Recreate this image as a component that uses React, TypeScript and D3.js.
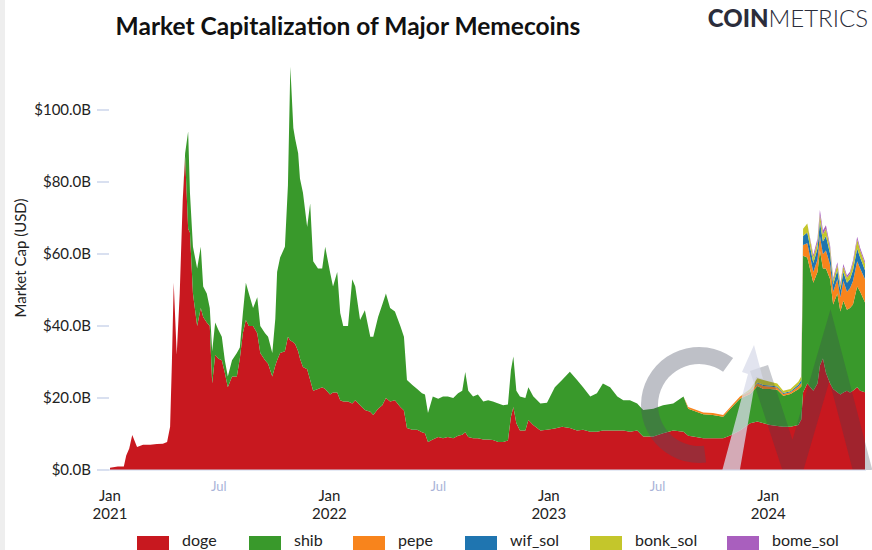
import React from "react";
import * as d3 from "d3";

// ---- data (values in $B) ----
const dates = [
  "2021-01-01","2021-01-14","2021-01-24","2021-01-28","2021-02-02","2021-02-07","2021-02-15","2021-02-25","2021-03-09","2021-03-20",
  "2021-03-30","2021-04-06","2021-04-11","2021-04-14","2021-04-17","2021-04-22","2021-04-27","2021-05-02","2021-05-06","2021-05-11",
  "2021-05-14","2021-05-19","2021-05-26","2021-06-01","2021-06-05","2021-06-11","2021-06-16","2021-06-20","2021-06-25","2021-06-30",
  "2021-07-06","2021-07-11","2021-07-16","2021-07-23","2021-07-31","2021-08-05","2021-08-10","2021-08-15","2021-08-20","2021-08-27",
  "2021-09-03","2021-09-08","2021-09-16","2021-09-21","2021-09-28","2021-10-03","2021-10-06","2021-10-11","2021-10-19","2021-10-24",
  "2021-10-28","2021-11-02","2021-11-05","2021-11-10","2021-11-13","2021-11-18","2021-11-25","2021-11-30","2021-12-05","2021-12-13",
  "2021-12-20","2021-12-25","2022-01-02","2022-01-07","2022-01-14","2022-01-19","2022-01-24","2022-02-01","2022-02-08","2022-02-13",
  "2022-02-21","2022-03-01","2022-03-10","2022-03-15","2022-03-23","2022-03-30","2022-04-05","2022-04-12","2022-04-20","2022-04-29",
  "2022-05-05","2022-05-10","2022-05-19","2022-05-27","2022-06-04","2022-06-09","2022-06-14","2022-06-22","2022-07-01","2022-07-09",
  "2022-07-17","2022-07-26","2022-08-03","2022-08-10","2022-08-15","2022-08-20","2022-08-28","2022-09-05","2022-09-14","2022-09-22",
  "2022-09-30","2022-10-09","2022-10-17","2022-10-25","2022-10-30","2022-11-03","2022-11-08","2022-11-14","2022-11-23","2022-11-28",
  "2022-12-06","2022-12-18","2022-12-29","2023-01-11","2023-01-23","2023-02-05","2023-02-17","2023-02-27","2023-03-11","2023-03-22",
  "2023-04-01","2023-04-13","2023-04-25","2023-05-05","2023-05-16","2023-05-28","2023-06-07","2023-06-24","2023-07-10","2023-07-27",
  "2023-08-13","2023-08-21","2023-08-29","2023-09-15","2023-10-01","2023-10-18","2023-10-30","2023-11-15","2023-12-02","2023-12-14",
  "2023-12-24","2024-01-04","2024-01-16","2024-01-26","2024-02-07","2024-02-20","2024-02-25","2024-02-28","2024-03-06","2024-03-16",
  "2024-03-23","2024-03-27","2024-04-01","2024-04-06","2024-04-13","2024-04-18","2024-04-25","2024-04-30","2024-05-05","2024-05-11",
  "2024-05-16","2024-05-21","2024-05-28","2024-06-02","2024-06-10"
];

const doge = [
  0.6,1.0,1.0,4,6,9.7,6.4,7,7,7.2,
  7.3,7.8,12,30,52,32,49,75,87,67,
  66,49,40,45,42.5,41,40,24,32,31,
  30.5,27,23,26,26,31,38,41.7,40,40,
  38,32.5,30.5,29.5,26,29,30.5,32.5,33,37,
  36,35.5,35,33,31,28.6,28,25,22,22.5,
  23,22.5,21,21.5,21.5,19.4,19,19,18.5,19.4,
  18,16.7,16.2,15.3,17,18,20,19,19.4,17.5,
  16.5,11.7,11.2,11.2,10.5,10.2,7.8,8.5,9.2,8.8,
  9.2,8.8,9.5,9.8,10.5,9.2,8.8,8.8,8.5,8.5,
  8.3,7.8,7.8,8.2,14.8,17.5,13,11,11,13.9,
  12.5,11,11.2,11.5,12,11.7,11,11.2,10.6,10.6,
  11,11,11,11,10.6,11,9.3,9.3,10.2,11,
  10.6,9.5,9.3,8.8,8.8,8.8,9.6,11,13,13.5,
  13,12.5,12.2,12,12,12.5,14,21.6,24,22,
  24,29,31,27,24,22.5,21.6,21,21.5,22,
  21.5,22,23,22,21.6
];

const shib = [
  0,0,0,0,0,0,0,0,0,0,
  0,0,0,0,0,0,0,0,1,27,
  11,13,16,17,8.5,8,5,9,9,8,
  6.5,3.5,3,4.5,6.5,3,5.5,10.3,9,5,
  10,7.5,7.5,7.5,6.5,13,24.5,26.5,29,42,
  76,59.5,57,55,50,48.4,39.5,49,36,33.5,
  33,39.5,34,29.5,33.5,24.2,21,21,34.5,31.6,
  23.7,27.7,20.8,21.7,25.5,28,29,26,24.6,22.5,
  20.5,13.3,12.4,11.3,10.8,10.8,8,11.9,10.6,11.6,
  11.2,11.2,11.8,12.2,16.7,12.8,11.6,12.2,10.5,10.9,
  10.7,10.7,10.2,10,13,14,9,9.4,9,9.1,
  8,7.5,7.5,11.5,13,15.6,14,11.8,9.8,10.7,
  13,12,9.4,8.4,8.8,7.5,7.4,7.7,7.8,7.5,
  9.8,7.5,7.2,6.7,6.5,6.0,7.4,8.8,8.1,9.8,
  9.5,10,10.1,8.6,9.1,9.9,9.2,37.9,35,30,
  31,32,25,29,29,23.5,27.4,23,25.5,22.5,
  23.5,24,28,27.5,24.9
];

const newcomerDates = [
  "2023-08-21","2023-08-29","2023-09-15","2023-10-01","2023-10-18","2023-10-30","2023-11-15","2023-12-02","2023-12-14","2023-12-24",
  "2024-01-04","2024-01-16","2024-01-26","2024-02-07","2024-02-20","2024-02-25","2024-02-28","2024-03-06","2024-03-16","2024-03-23",
  "2024-03-27","2024-04-01","2024-04-06","2024-04-13","2024-04-18","2024-04-25","2024-04-30","2024-05-05","2024-05-11","2024-05-16",
  "2024-05-21","2024-05-28","2024-06-02","2024-06-10"
];
const pepe = [
  0.5,0.5,0.5,0.5,0.5,0.5,0.6,0.7,0.8,0.8,
  0.7,0.6,0.5,0.5,0.8,1,3,4,3,3.5,
  4,4,5,4,3.5,4,4,5.5,5,5.5,
  6.5,7,6.5,6.5
];
const wifSol = [
  0,0,0,0,0,0,0,0.1,0.2,0.3,
  0.3,0.3,0.3,0.3,0.5,0.8,2.5,3,2.5,3,
  4,3.5,4,3,2,2.5,2,2.5,2.5,2.5,
  3,3.5,3,2.5
];
const bonkSol = [
  0,0,0,0,0,0,0,0.6,1.2,1.4,
  1.0,0.8,0.6,0.6,0.8,1,2,2.5,1.5,1.8,
  2,2,2,1.5,1.2,1.5,1.3,1.5,1.4,1.5,
  2,2.5,2,1.8
];
const bomeSol = [
  0,0,0,0,0,0,0,0,0,0,
  0,0,0,0,0,0,0,0,0.8,1,
  1.2,1,1,0.8,0.6,0.7,0.6,0.7,0.6,0.6,
  0.7,0.8,0.7,0.6
];

const seriesKeys = ["doge", "shib", "pepe", "wif_sol", "bonk_sol", "bome_sol"];
const seriesColors = ["#c8181f", "#39992b", "#f8841c", "#1f75b0", "#c4c62b", "#a95fbe"];
const yTickValues = [0, 20, 40, 60, 80, 100];
const yearTickDates = ["2021-01-01", "2022-01-01", "2023-01-01", "2024-01-01"];
const midTickDates = ["2021-07-01", "2022-07-01", "2023-07-01"];
const domainDates = ["2021-01-01", "2024-06-10"];

// ---- layout ----
const W = 872;
const H = 550;
const M = { left: 110, right: 865, top: 110, bottom: 470 };
const legendItemX = [137, 249, 353, 465, 590, 727];

export default function App() {
  const parse = d3.utcParse("%Y-%m-%d");

  const rows = dates.map((d, i) => {
    const j = newcomerDates.indexOf(d);
    return {
      date: parse(d) as Date,
      doge: doge[i],
      shib: shib[i],
      pepe: j >= 0 ? pepe[j] : 0,
      wif_sol: j >= 0 ? wifSol[j] : 0,
      bonk_sol: j >= 0 ? bonkSol[j] : 0,
      bome_sol: j >= 0 ? bomeSol[j] : 0,
    };
  });

  const x = d3
    .scaleUtc()
    .domain(domainDates.map((d) => parse(d) as Date))
    .range([M.left, M.right]);
  const y = d3.scaleLinear().domain([0, 100]).range([M.bottom, M.top]);

  const stacked = d3.stack<any>().keys(seriesKeys)(rows);
  const area = d3
    .area<any>()
    .x((d) => x(d.data.date))
    .y0((d) => y(d[0]))
    .y1((d) => y(d[1]))
    .curve(d3.curveLinear);

  // watermark geometry (decoration)
  const wcx = 699, wcy = 405;
  const arcPath = d3.arc()({
    innerRadius: 41,
    outerRadius: 58,
    startAngle: (-187 * Math.PI) / 180,
    endAngle: (36 * Math.PI) / 180,
  } as any) as string;

  const font = "Lato, 'Open Sans', sans-serif";

  return (
    <svg
      width={W}
      height={H}
      style={{ position: "absolute", left: 0, top: 0, display: "block", background: "#fff" }}
      fontFamily={font}
    >
      <rect x={0} y={0} width={W} height={H} fill="#ffffff" />
      <rect x={0} y={0} width={5} height={H} fill="#eeeeee" />

      {/* title */}
      <text x={348} y={35} textAnchor="middle" fontSize={24.5} fontWeight={700} fill="#111">
        Market Capitalization of Major Memecoins
      </text>
      <text x={868} y={27} textAnchor="end" fontSize={24} fill="#2b2d3b">
        <tspan fontWeight={900}>COIN</tspan>
        <tspan fontWeight={300}>METRICS</tspan>
      </text>

      {/* areas */}
      <g>
        {stacked.map((s, i) => (
          <path key={s.key} d={area(s) as string} fill={seriesColors[i]} stroke="none" />
        ))}
      </g>

      {/* watermark */}
      <defs>
        <clipPath id="plotClip">
          <rect x={0} y={0} width={W} height={M.bottom} />
        </clipPath>
      </defs>
      <g clipPath="url(#plotClip)">
        <path d={arcPath} transform={`translate(${wcx},${wcy})`} fill="#4a5064" opacity={0.36} />
        <polyline
          points={`${wcx + 60},${wcy - 37} ${wcx + 94},${wcy + 67} ${wcx + 131},${wcy - 60} ${wcx + 164},${wcy + 67}`}
          fill="none"
          stroke="#3a3f52"
          strokeWidth={19}
          strokeLinejoin="miter"
          opacity={0.28}
        />
        <polygon
          points={`${wcx + 22},${wcy + 70} ${wcx + 40},${wcy + 70} ${wcx + 57},${wcy - 28} ${wcx + 64},${wcy - 26} ${wcx + 55},${wcy - 60} ${wcx + 43},${wcy - 33} ${wcx + 49},${wcy - 31}`}
          fill="#d8dbea"
          opacity={0.75}
        />
      </g>

      {/* axes */}
      <line x1={M.left - 1} x2={M.right + 1} y1={M.bottom} y2={M.bottom} stroke="#ccd6eb" strokeWidth={1} />
      {yTickValues.map((v) => (
        <g key={v}>
          <line x1={97} x2={109} y1={y(v)} y2={y(v)} stroke="#ccd6eb" strokeWidth={1.5} />
          <text x={91} y={y(v) + 5} textAnchor="end" fontSize={15} fill="#222">
            {`$${v.toFixed(1)}B`}
          </text>
        </g>
      ))}
      <text
        transform={`translate(20, 258) rotate(-90)`}
        textAnchor="middle"
        dominantBaseline="central"
        fontSize={15}
        fill="#222"
      >
        Market Cap (USD)
      </text>

      {yearTickDates.map((d) => {
        const dt = parse(d) as Date;
        return (
          <g key={d}>
            <text x={x(dt)} y={501} textAnchor="middle" fontSize={15} fill="#222">
              {d3.utcFormat("%b")(dt)}
            </text>
            <text x={x(dt)} y={519} textAnchor="middle" fontSize={15} fill="#222">
              {d3.utcFormat("%Y")(dt)}
            </text>
          </g>
        );
      })}
      {midTickDates.map((d) => {
        const dt = parse(d) as Date;
        return (
          <text key={d} x={x(dt)} y={491} textAnchor="middle" fontSize={13} fill="#a9b3d8">
            {d3.utcFormat("%b")(dt)}
          </text>
        );
      })}

      {/* legend */}
      {seriesKeys.map((k, i) => (
        <g key={k}>
          <rect x={legendItemX[i]} y={536} width={32} height={14} fill={seriesColors[i]} />
          <text x={legendItemX[i] + 45} y={546} fontSize={16} fill="#222">
            {k}
          </text>
        </g>
      ))}
    </svg>
  );
}
